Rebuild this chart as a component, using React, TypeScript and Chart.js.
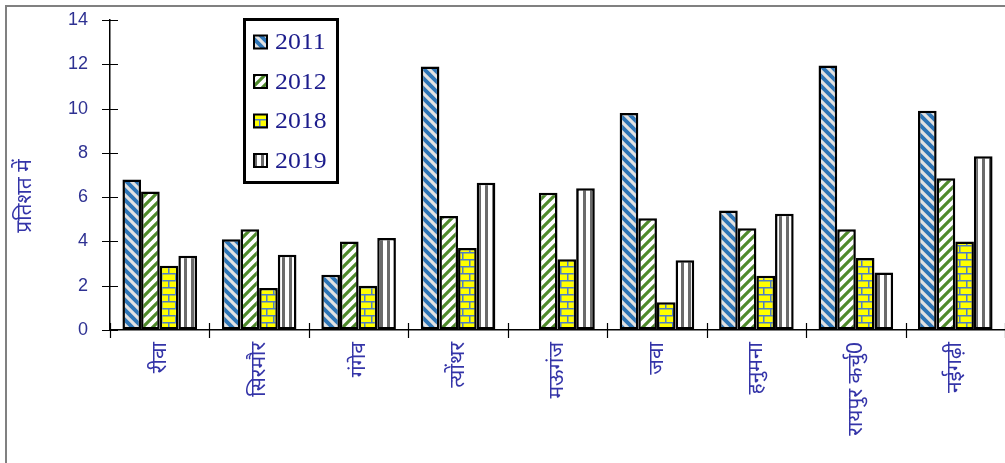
import React, { useEffect, useRef } from "react";
import { Chart, registerables } from "chart.js";

Chart.register(...registerables);

const categories = ["रीवा", "सिरमौर", "गंगेव", "त्योंथर", "मऊगंज", "जवा", "हनुमना", "रायपुर कर्चु0", "नईगढ़ी"];
const seriesLabels = ["2011", "2012", "2018", "2019"];
const values2011 = [6.8, 4.1, 2.5, 11.9, null, 9.8, 5.4, 11.95, 9.9];
const values2012 = [6.25, 4.55, 4.0, 5.15, 6.2, 5.05, 4.6, 4.55, 6.85];
const values2018 = [2.9, 1.9, 2.0, 3.7, 3.2, 1.25, 2.45, 3.25, 4.0];
const values2019 = [3.35, 3.4, 4.15, 6.65, 6.4, 3.15, 5.25, 2.6, 7.85];
const yTicks = [0, 2, 4, 6, 8, 10, 12, 14];
const yTitle = "प्रतिशत में";

function makePattern(kind: string): CanvasPattern | string {
  const c = document.createElement("canvas");
  const ctx = c.getContext("2d");
  if (!ctx) return "#888";
  if (kind === "2011" || kind === "2012") {
    c.width = 10; c.height = 10;
    const g = c.getContext("2d")!;
    g.fillStyle = kind === "2011" ? "#2e75b6" : "#ffffff";
    g.fillRect(0, 0, 10, 10);
    g.strokeStyle = kind === "2011" ? "#e2e2e2" : "#4f8a2c";
    g.lineWidth = 3.2;
    g.beginPath();
    if (kind === "2011") {
      for (const o of [-10, 0, 10]) { g.moveTo(o - 2, -2); g.lineTo(o + 12, 12); }
    } else {
      for (const o of [-10, 0, 10]) { g.moveTo(o - 2, 12); g.lineTo(o + 12, -2); }
    }
    g.stroke();
  } else if (kind === "2018") {
    c.width = 14; c.height = 14;
    const g = c.getContext("2d")!;
    g.fillStyle = "#ffff00";
    g.fillRect(0, 0, 14, 14);
    g.fillStyle = "#4f7fc4";
    g.fillRect(0, 0, 14, 1.5);
    g.fillRect(0, 7, 14, 1.5);
    g.fillRect(0, 0, 1.5, 7);
    g.fillRect(7, 7, 1.5, 7);
  } else {
    c.width = 7; c.height = 7;
    const g = c.getContext("2d")!;
    g.fillStyle = "#ffffff";
    g.fillRect(0, 0, 7, 7);
    g.fillStyle = "#6b6b6b";
    g.fillRect(2, 0, 3, 7);
  }
  const p = (c.getContext("2d") as CanvasRenderingContext2D).createPattern(c, "repeat");
  return p || "#888";
}

const frameAndTicks = {
  id: "frameAndTicks",
  beforeDraw(chart: any) {
    const ctx = chart.ctx;
    ctx.save();
    ctx.fillStyle = "#ffffff";
    ctx.fillRect(0, 0, chart.width, chart.height);
    ctx.strokeStyle = "#808080";
    ctx.lineWidth = 2;
    ctx.beginPath();
    ctx.moveTo(6, chart.height + 2);
    ctx.lineTo(6, 6);
    ctx.lineTo(chart.width + 2, 6);
    ctx.stroke();
    ctx.restore();
  },
  afterDraw(chart: any) {
    const ctx = chart.ctx;
    const x = chart.scales.x;
    const y = chart.scales.y;
    const area = chart.chartArea;
    ctx.save();
    ctx.strokeStyle = "#000";
    ctx.lineWidth = 1.2;
    ctx.beginPath();
    yTicks.forEach((v) => {
      const py = Math.round(y.getPixelForValue(v)) + 0.5;
      ctx.moveTo(area.left - 8, py);
      ctx.lineTo(area.left + 8, py);
    });
    for (let i = 0; i <= categories.length; i++) {
      const px = Math.round(x.getPixelForValue(i - 0.5)) + 0.5;
      ctx.moveTo(px, area.bottom - 7);
      ctx.lineTo(px, area.bottom + 8);
    }
    ctx.stroke();
    // y title
    ctx.fillStyle = "#3434a8";
    ctx.font = '21px "Noto Sans", sans-serif';
    ctx.textAlign = "center";
    ctx.textBaseline = "middle";
    ctx.translate(25, 196);
    ctx.rotate(-Math.PI / 2);
    ctx.fillText(yTitle, 0, 0);
    ctx.restore();

    // legend
    ctx.save();
    ctx.fillStyle = "#ffffff";
    ctx.fillRect(244, 19, 94, 163);
    ctx.lineWidth = 3;
    ctx.strokeStyle = "#000";
    ctx.strokeRect(244.5, 19.5, 93, 163);
    chart.data.datasets.forEach((ds: any, i: number) => {
      const cy = 42 + i * 39.5;
      ctx.fillStyle = ds.backgroundColor;
      ctx.fillRect(254, cy - 6.5, 13, 13);
      ctx.lineWidth = 2;
      ctx.strokeStyle = "#000";
      ctx.strokeRect(254, cy - 6.5, 13, 13);
      ctx.save();
      ctx.fillStyle = "#1c1c8c";
      ctx.font = '23px "Liberation Serif", "Times New Roman", serif';
      ctx.textBaseline = "middle";
      ctx.translate(275, cy + 1);
      ctx.scale(1.12, 1);
      ctx.fillText(ds.label, 0, 0);
      ctx.restore();
    });
    ctx.restore();
  },
};

export default function App() {
  const ref = useRef<HTMLCanvasElement | null>(null);
  useEffect(() => {
    document.body.style.margin = "0";
    if (!ref.current) return;
    const series = [values2011, values2012, values2018, values2019];
    const chart = new Chart(ref.current, {
      type: "bar",
      data: {
        labels: categories,
        datasets: series.map((vals, i) => ({
          label: seriesLabels[i],
          data: vals,
          backgroundColor: makePattern(seriesLabels[i]) as any,
          borderColor: "#000000",
          borderWidth: 2.5,
          borderSkipped: false,
          categoryPercentage: 0.75,
          barPercentage: 1.0,
        })),
      },
      options: {
        responsive: false,
        animation: false,
        layout: { padding: { top: 20, right: 0, left: 0, bottom: 0 } },
        plugins: { legend: { display: false }, tooltip: { enabled: false } },
        scales: {
          x: {
            grid: { display: true, drawOnChartArea: false, drawTicks: false },
            border: { display: true, color: "#000", width: 1.5 },
            ticks: {
              color: "#3434a8",
              font: { family: '"Noto Sans", sans-serif', size: 21 },
              minRotation: 90,
              maxRotation: 90,
              padding: 12,
              autoSkip: false,
            },
            afterFit: (s: any) => { s.height = 133; },
          },
          y: {
            min: 0,
            max: 14,
            grid: {
              display: true,
              drawOnChartArea: false,
              drawTicks: true,
              tickLength: 22,
              tickColor: "rgba(0,0,0,0)",
            },
            border: { display: true, color: "#000", width: 1.5 },
            ticks: {
              stepSize: 2,
              color: "#2e3192",
              font: { family: '"Liberation Sans", Arial, sans-serif', size: 18 },
              padding: 0,
            },
            afterFit: (s: any) => { s.width = 110; },
          },
        },
      },
      plugins: [frameAndTicks],
    });
    return () => chart.destroy();
  }, []);
  return (
    <div style={{ width: 1005, height: 463 }}>
      <canvas ref={ref} width={1005} height={463} style={{ display: "block" }} />
    </div>
  );
}
